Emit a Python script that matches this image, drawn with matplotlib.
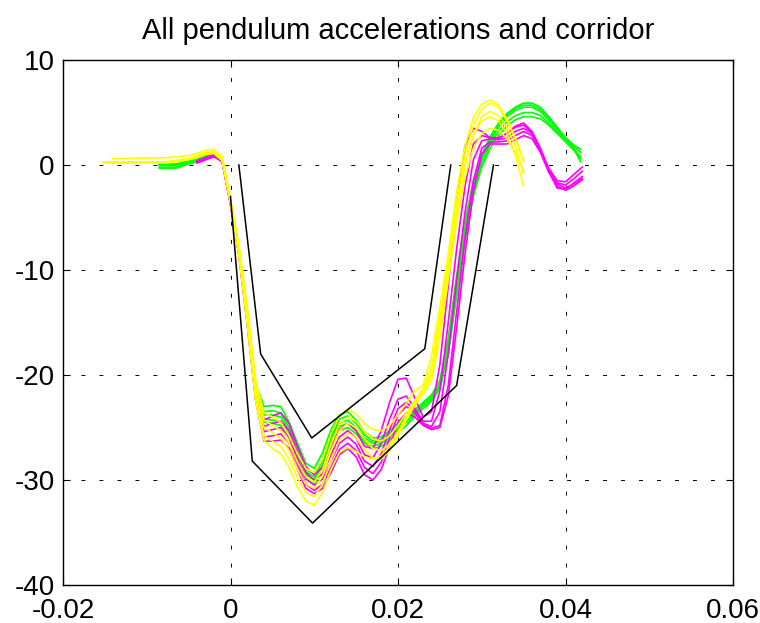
import numpy as np
import matplotlib.pyplot as plt

plt.rcParams['font.family'] = ['Liberation Sans', 'DejaVu Sans']

### time bases (ms)
t_green = [-8.5, -6.5, -5, -4, -3, -2, -1,
           0, 1, 2, 3, 4, 5, 6, 7, 8, 9, 10, 11, 12, 13, 14, 15, 16, 17, 18, 19, 20,
           21, 22, 23, 24, 25, 26, 27, 28, 29, 30, 31, 32, 33, 34, 35, 36, 37, 38, 39,
           40, 41, 41.8]
t_yellow = [-7.5, -5, -4, -3, -2, -1,
            0, 1, 2, 3, 4, 5, 6, 7, 8, 9, 10, 11, 12, 13, 14, 15, 16, 17, 18, 19, 20,
            21, 22, 23, 24, 25, 26, 27, 28, 29, 30, 31, 32, 33, 34, 35]
yellow_start = [-14.1, -15.2, -15.2, -14.8, -15.0]
t_magenta = [-4, -3, -2, -1,
             0, 1, 2, 3, 4, 5, 6, 7, 8, 9, 10, 11, 12, 13, 14, 15, 16, 17, 18, 19, 20,
             21, 22, 23, 24, 25, 26, 27, 28, 29, 30, 31, 32, 33, 34, 35, 36, 37, 38, 39,
             40, 41, 42]

### green accelerations
green = [
    [0.1, 0.1, 0.4, 0.6, 0.9, 1.1, 0.5,
     -3.4, -7.8, -13.8, -20.8, -23.0, -22.9, -23.0, -24.5, -26.5, -28.4,
     -28.9, -27.4, -25.2, -23.8, -23.5, -24.3, -25.4, -26.0, -25.9, -25.3,
     -24.6, -24.0, -23.3, -22.6, -21.9, -20.5, -16.5, -10.5, -5.3, -1.5,
     1.0, 2.7, 4.0, 4.9, 5.5, 5.9, 5.9, 5.5, 4.6, 3.6, 2.6, 1.6, 0.6],
    [0.0, 0.0, 0.3, 0.5, 0.8, 1.0, 0.5,
     -3.5, -8.0, -14.0, -21.2, -23.8, -23.8, -24.0, -25.3, -27.3, -29.2,
     -29.7, -28.2, -26.0, -24.6, -24.3, -25.0, -26.0, -26.5, -26.3, -25.7,
     -25.0, -24.3, -23.6, -22.9, -22.2, -21.0, -17.2, -11.3, -6.0, -2.0,
     0.6, 2.3, 3.6, 4.6, 5.2, 5.5, 5.5, 5.1, 4.3, 3.4, 2.5, 1.8, 1.2],
    [-0.3, -0.3, 0.1, 0.3, 0.6, 0.9, 0.4,
     -3.6, -8.2, -14.3, -21.5, -24.5, -24.6, -24.8, -26.0, -28.0, -29.9,
     -30.4, -29.0, -26.8, -25.3, -25.0, -25.6, -26.5, -27.0, -26.8, -26.2,
     -25.5, -24.8, -24.0, -23.2, -22.5, -21.3, -17.8, -12.0, -6.8, -2.6,
     0.2, 2.0, 3.2, 4.1, 4.7, 5.0, 5.0, 4.7, 4.0, 3.2, 2.4, 1.5, 0.3],
    [0.0, 0.0, 0.2, 0.4, 0.7, 1.0, 0.5,
     -3.5, -8.1, -14.2, -21.0, -23.5, -23.4, -23.6, -25.0, -27.0, -29.0,
     -29.4, -28.0, -25.8, -24.2, -23.9, -24.6, -25.7, -26.3, -26.1, -25.5,
     -24.8, -24.1, -23.4, -22.7, -22.0, -21.2, -18.0, -12.5, -7.2, -3.0,
     -0.2, 1.6, 2.8, 3.7, 4.3, 4.6, 4.6, 4.4, 3.8, 3.0, 2.2, 1.4, 0.8],
    [-0.2, -0.2, 0.2, 0.4, 0.7, 1.0, 0.4,
     -3.5, -8.0, -14.0, -21.3, -24.2, -24.3, -24.4, -25.6, -27.6, -29.5,
     -30.0, -28.6, -26.4, -24.9, -24.6, -25.3, -26.3, -26.8, -26.5, -25.9,
     -25.2, -24.5, -23.8, -23.0, -22.3, -20.8, -16.8, -11.0, -5.8, -2.0,
     0.7, 2.5, 3.8, 4.8, 5.4, 5.7, 5.7, 5.3, 4.5, 3.5, 2.6, 1.9, 1.5],
]

### magenta accelerations
magenta = [
    [0.4, 0.7, 1.0, 0.5,
     -3.6, -8.2, -14.5, -21.5, -24.3, -23.9, -23.6, -24.6, -26.8, -28.7,
     -29.5, -28.8, -26.9, -25.2, -24.6, -25.3, -26.8, -27.0, -25.3, -22.6,
     -20.4, -20.3, -22.2, -24.0, -23.5, -19.0, -11.5, -3.5, 1.8, 3.5,
     3.2, 2.6, 2.5, 3.0, 3.7, 4.0, 3.2, 1.6, -0.6, -2.2,
     -2.3, -1.7, -1.1],
    [0.3, 0.6, 0.9, 0.4,
     -3.6, -8.3, -14.7, -21.8, -24.9, -24.6, -24.4, -25.3, -27.4, -29.3,
     -30.0, -29.4, -27.6, -25.9, -25.3, -26.0, -27.6, -27.9, -26.5, -24.2,
     -22.3, -22.0, -23.2, -24.4, -24.4, -21.5, -15.0, -8.0, -2.0, 2.0,
     2.8, 2.6, 2.6, 3.0, 3.6, 3.8, 3.1, 1.5, -0.4, -1.7,
     -1.9, -1.3, -0.6],
    [0.3, 0.6, 0.9, 0.4,
     -3.7, -8.4, -14.9, -22.0, -25.4, -25.2, -25.0, -25.9, -28.0, -29.9,
     -30.5, -29.9, -28.2, -26.5, -25.9, -26.6, -28.2, -28.7, -27.5, -25.2,
     -23.2, -22.6, -23.4, -24.6, -24.9, -23.5, -18.0, -11.0, -4.5, 0.5,
     2.3, 2.5, 2.4, 2.6, 3.2, 3.5, 3.0, 1.5, -0.3, -1.5,
     -1.6, -0.9, -0.2],
    [0.2, 0.5, 0.8, 0.4,
     -3.8, -8.5, -15.0, -22.2, -25.9, -25.8, -25.6, -26.5, -28.5, -30.4,
     -31.0, -30.4, -28.8, -27.1, -26.5, -27.2, -28.8, -29.4, -28.3, -26.0,
     -23.8, -23.0, -23.6, -24.7, -25.1, -24.8, -21.0, -14.0, -7.0, -1.5,
     1.6, 2.2, 2.2, 2.3, 2.8, 3.2, 2.8, 1.4, -0.5, -1.8,
     -2.2, -1.8, -1.3],
    [0.2, 0.5, 0.8, 0.3,
     -3.8, -8.6, -15.2, -22.4, -26.3, -26.3, -26.2, -27.0, -29.0, -30.8,
     -31.3, -30.8, -29.3, -27.6, -27.0, -27.8, -29.5, -30.0, -29.0, -26.8,
     -24.5, -23.6, -24.0, -24.8, -25.2, -25.0, -22.0, -15.5, -8.5, -2.5,
     1.0, 2.0, 2.0, 2.0, 2.4, 2.8, 2.5, 1.2, -0.7, -2.0,
     -2.4, -2.0, -1.4],
]

### yellow accelerations (first value belongs to yellow_start)
yellow = [
    [0.6, 0.7, 0.9, 1.1, 1.4, 1.5, 0.8,
     -3.2, -7.6, -13.5, -20.5, -23.6, -24.0, -24.5, -25.8, -27.5, -28.9,
     -29.3, -28.0, -25.6, -23.9, -23.3, -23.7, -24.6, -25.2, -25.3, -24.8,
     -23.8, -22.7, -21.5, -21.0, -18.2, -13.5, -8.5, -2.5, 1.8, 4.5,
     5.8, 6.2, 5.7, 4.4, 2.6, 0.5],
    [0.2, 0.3, 0.6, 0.9, 1.2, 1.3, 0.6,
     -3.4, -7.9, -14.0, -21.0, -24.3, -24.8, -25.3, -26.5, -28.3, -29.7,
     -30.2, -29.0, -26.6, -24.7, -24.0, -24.4, -25.4, -26.1, -26.3, -25.8,
     -24.8, -23.6, -22.4, -21.4, -19.2, -14.5, -9.2, -3.5, 1.0, 3.8,
     5.3, 5.9, 5.5, 4.2, 2.5, 0.3],
    [0.3, 0.3, 0.6, 0.8, 1.1, 1.2, 0.5,
     -3.5, -8.2, -14.5, -21.5, -25.0, -25.5, -26.0, -27.2, -29.0, -30.4,
     -30.8, -29.6, -27.2, -25.3, -24.6, -25.0, -26.1, -27.0, -27.2, -26.6,
     -25.4, -24.0, -22.6, -21.6, -20.0, -15.5, -10.0, -4.5, 0.0, 2.9,
     4.6, 5.1, 4.7, 3.6, 1.8, -0.8],
    [0.2, 0.2, 0.5, 0.7, 1.0, 1.1, 0.4,
     -3.6, -8.4, -14.8, -22.0, -25.8, -26.3, -26.8, -28.0, -29.8, -31.2,
     -31.6, -30.4, -28.1, -26.2, -25.5, -26.0, -27.1, -27.9, -28.0, -27.2,
     -25.8, -24.3, -22.9, -21.8, -20.5, -16.5, -11.0, -5.5, -1.2, 1.6,
     3.0, 3.5, 3.3, 2.5, 1.2, -0.5],
    [0.3, 0.3, 0.6, 0.8, 1.1, 1.2, 0.5,
     -3.7, -8.6, -15.2, -22.5, -26.2, -27.0, -27.5, -28.8, -30.7, -32.0,
     -32.4, -31.2, -29.0, -27.4, -26.9, -27.3, -27.8, -28.0, -27.7, -26.8,
     -25.5, -24.0, -22.5, -21.3, -19.8, -15.0, -9.6, -4.2, 0.0, 2.8,
     4.2, 4.6, 4.2, 3.0, 1.0, -2.0],
]

### corridor (s, g)
upper_x = [0.001, 0.0036, 0.0097, 0.0232, 0.0263]
upper_y = [0, -18, -26, -17.5, 0]
lower_x = [0.0, 0.0026, 0.0098, 0.0270, 0.0314]
lower_y = [-3, -28.2, -34.1, -21.0, 0]

fig = plt.figure(figsize=(7.6, 6.23), dpi=100)
ax = fig.add_axes([63/760, 1-585/623, 670/760, 525/623])

for y in green:
    ax.plot(np.array(t_green)/1000, y, color='#00ff00', lw=1.2)
for y in magenta:
    ax.plot(np.array(t_magenta)/1000, y, color='#ff00ff', lw=1.2)
for s, y in zip(yellow_start, yellow):
    ax.plot(np.array([s] + t_yellow)/1000, y, color='#ffff00', lw=1.2)

ax.plot(upper_x, upper_y, color='k', lw=1.1)
ax.plot(lower_x, lower_y, color='k', lw=1.1)

ax.set_xlim(-0.02, 0.06)
ax.set_ylim(-40, 10)
ax.set_xticks([-0.02, 0, 0.02, 0.04, 0.06])
ax.set_xticklabels(['-0.02', '0', '0.02', '0.04', '0.06'])
ax.set_yticks([-40, -30, -20, -10, 0, 10])
ax.set_yticklabels(['-40', '-30', '-20', '-10', '0', '10'])
ax.tick_params(direction='in', length=5, width=0.8, labelsize=20,
               top=True, right=True)
ax.tick_params(axis='x', pad=9)
ax.tick_params(axis='y', pad=6)
ax.grid(True, color='k', lw=0.7, dashes=(4, 14.5))
for sp in ax.spines.values():
    sp.set_linewidth(1.0)

ax.set_title('All pendulum accelerations and corridor', fontsize=21, pad=15)

fig.savefig('out.png', dpi=100)
